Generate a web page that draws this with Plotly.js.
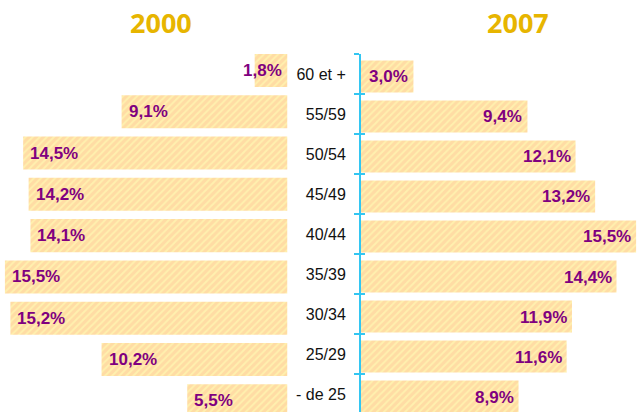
<!DOCTYPE html>
<html>
<head>
<meta charset="utf-8">
<script src="https://cdn.plot.ly/plotly-3.0.1.min.js"></script>
<style>
html,body{margin:0;padding:0;background:#fff;overflow:hidden;}
#chart{width:637px;height:412px;}
</style>
</head>
<body>
<div id="chart"></div>
<script>
// ---- data ----
var categories = ["60 et +", "55/59", "50/54", "45/49", "40/44", "35/39", "30/34", "25/29", "- de 25"];
var values2000 = [1.8, 9.1, 14.5, 14.2, 14.1, 15.5, 15.2, 10.2, 5.5];
var values2007 = [3.0, 9.4, 12.1, 13.2, 15.5, 14.4, 11.9, 11.6, 8.9];
var seriesNames = ["2000", "2007"];

function fmt(v){ return v.toFixed(1).replace('.', ',') + '%'; }

var W = 637, H = 412;
var barPattern = {shape: '/', bgcolor: '#FFDCA4', fgcolor: '#FFF0AE', size: 5, solidity: 0.4, fillmode: 'replace'};

var traces = [
  {
    type: 'bar', orientation: 'h', name: seriesNames[0],
    x: values2000, y: categories, xaxis: 'x', yaxis: 'y',
    width: 0.8,
    marker: {color: '#FFDCA4', pattern: barPattern, line: {width: 0}},
    hoverinfo: 'skip', showlegend: false
  },
  {
    type: 'bar', orientation: 'h', name: seriesNames[1],
    x: values2007, y: categories, xaxis: 'x2', yaxis: 'y2',
    width: 0.8, offset: -0.3375,
    marker: {color: '#FFDCA4', pattern: barPattern, line: {width: 0}},
    hoverinfo: 'skip', showlegend: false
  },
  {
    // carrier for the inner tick marks of the central axis (draws nothing)
    type: 'scatter', mode: 'markers', x: [0], y: [0], xaxis: 'x2', yaxis: 'y3',
    marker: {opacity: 0, size: 1}, hoverinfo: 'skip', showlegend: false
  }
];

var annotations = [];
var labelFont = {family: 'Liberation Sans, Arial, sans-serif', size: 17, color: '#800080', weight: 700};
values2000.forEach(function(v, i){
  var small = v < 3;
  annotations.push({
    xref: 'x', yref: 'y', x: small ? 0 : v, y: categories[i],
    xanchor: small ? 'right' : 'left', xshift: small ? -4 : 5,
    yanchor: 'middle', showarrow: false, text: fmt(v), font: labelFont
  });
});
values2007.forEach(function(v, i){
  annotations.push({
    xref: 'x2', yref: 'y2', x: v, y: categories[i],
    xanchor: 'right', xshift: -3, yshift: -3,
    yanchor: 'middle', showarrow: false, text: fmt(v), font: labelFont
  });
});
var titleFont = {family: 'Open Sans, Noto Sans, sans-serif', size: 27, color: '#E7B500', weight: 700};
annotations.push({xref: 'paper', yref: 'paper', x: 161 / W, y: 1 - 23 / H, xanchor: 'center', yanchor: 'middle',
  showarrow: false, text: seriesNames[0], font: titleFont});
annotations.push({xref: 'paper', yref: 'paper', x: 518 / W, y: 1 - 23 / H, xanchor: 'center', yanchor: 'middle',
  showarrow: false, text: seriesNames[1], font: titleFont});

var axisTop = 1 - 54 / H;
var axisColor = '#33C6F2';

var layout = {
  width: W, height: H,
  margin: {l: 0, r: 0, t: 0, b: 0, pad: 0},
  paper_bgcolor: '#ffffff', plot_bgcolor: 'rgba(0,0,0,0)',
  showlegend: false,
  xaxis: {domain: [0, 287.5 / W], range: [15.77, 0], visible: false, fixedrange: true},
  yaxis: {domain: [0, 1], type: 'category', categoryorder: 'array', categoryarray: categories,
          range: [8.271, -1.705], visible: false, fixedrange: true},
  xaxis2: {domain: [360 / W, 1], range: [0, 15.55], visible: false, fixedrange: true},
  yaxis2: {domain: [0, axisTop], type: 'category', categoryorder: 'array', categoryarray: categories,
           range: [8.45, -0.5], anchor: 'free', position: 359 / W,
           showline: true, linecolor: axisColor, linewidth: 1.5,
           showgrid: false, zeroline: false,
           ticks: 'outside', tickson: 'boundaries', ticklen: 5, tickwidth: 1.5, tickcolor: axisColor,
           ticklabelstandoff: 10,
           tickfont: {family: 'Liberation Sans, Arial, sans-serif', size: 16, color: '#111111'},
           fixedrange: true},
  yaxis3: {domain: [0, axisTop], overlaying: 'y2', type: 'linear', range: [8.45, -0.5], anchor: 'free', position: 359 / W,
           showline: false, showgrid: false, zeroline: false, showticklabels: false,
           ticks: 'inside', tickmode: 'linear', tick0: -0.5, dtick: 1, ticklen: 5, tickwidth: 1.5, tickcolor: axisColor,
           fixedrange: true},
  bargap: 0.2,
  annotations: annotations
};

Plotly.newPlot('chart', traces, layout, {displayModeBar: false, staticPlot: true});
</script>
</body>
</html>
